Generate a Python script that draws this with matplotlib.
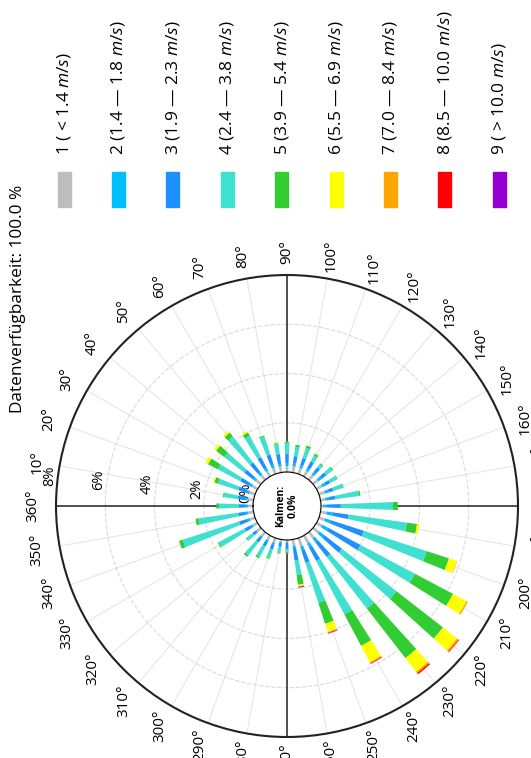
import numpy as np
import matplotlib.pyplot as plt
from matplotlib.patches import Rectangle

plt.rcParams['font.family'] = ['Open Sans', 'DejaVu Sans']
plt.rcParams['mathtext.fontset'] = 'custom'
plt.rcParams['mathtext.it'] = 'Open Sans:italic'
plt.rcParams['mathtext.rm'] = 'Open Sans'

# wind directions (deg) and frequency (%) per speed class
directions = list(range(10, 370, 10))
c1 = [0.25, 0.25, 0.25, 0.25, 0.25, 0.25, 0.25, 0.25, 0.25, 0.25, 0.25, 0.25,
      0.25, 0.25, 0.25, 0.25, 0.20, 0.10, 0.25, 0.25, 0.25, 0.30, 0.30, 0.35,
      0.35, 0.25, 0.10, 0.10, 0.20, 0.20, 0.22, 0.20, 0.22, 0.22, 0.22, 0.22]
c2 = [0.10, 0.10, 0.12, 0.12, 0.12, 0.12, 0.12, 0.10, 0.12, 0.12, 0.12, 0.12,
      0.12, 0.15, 0.15, 0.15, 0.15, 0.15, 0.25, 0.25, 0.25, 0.25, 0.20, 0.15,
      0.15, 0.10, 0.05, 0.05, 0.08, 0.08, 0.08, 0.05, 0.10, 0.10, 0.10, 0.10]
c3 = [0.30, 0.35, 0.40, 0.45, 0.50, 0.50, 0.45, 0.40, 0.35, 0.30, 0.30, 0.30,
      0.25, 0.25, 0.20, 0.20, 0.25, 0.55, 0.65, 1.40, 1.50, 0.90, 0.75, 0.65,
      0.55, 0.50, 0.20, 0.15, 0.20, 0.20, 0.20, 0.15, 0.25, 0.35, 0.30, 0.25]
c4 = [0.55, 0.87, 1.03, 1.03, 1.33, 0.98, 0.76, 0.43, 0.48, 0.38, 0.43, 0.28,
      0.15, 0.30, 0.32, 0.42, 0.98, 2.12, 2.38, 2.68, 2.50, 2.80, 2.65, 2.45,
      1.70, 0.60, 0.15, 0.25, 0.35, 0.48, 0.66, 0.31, 1.20, 2.40, 1.63, 0.82]
c5 = [0.05, 0.15, 0.45, 0.42, 0.20, 0.15, 0.05, 0.03, 0.02, 0.08, 0.10, 0.08,
      0.05, 0.05, 0.03, 0.02, 0.05, 0.20, 0.42, 0.95, 1.75, 2.40, 2.55, 1.45,
      0.90, 0.40, 0.02, 0.02, 0.05, 0.07, 0.08, 0.03, 0.04, 0.16, 0.12, 0.10]
c6 = [0.00, 0.05, 0.12, 0.10, 0.09, 0.07, 0.02, 0.03, 0.01, 0.00, 0.00, 0.02,
      0.00, 0.00, 0.00, 0.00, 0.00, 0.00, 0.10, 0.33, 0.62, 0.72, 0.70, 0.75,
      0.35, 0.06, 0.00, 0.00, 0.03, 0.00, 0.00, 0.00, 0.02, 0.00, 0.00, 0.00]
c7 = [0.00, 0.00, 0.00, 0.00, 0.00, 0.00, 0.00, 0.00, 0.02, 0.00, 0.00, 0.00,
      0.00, 0.00, 0.00, 0.00, 0.00, 0.00, 0.00, 0.02, 0.06, 0.08, 0.07, 0.05,
      0.03, 0.02, 0.03, 0.02, 0.00, 0.00, 0.00, 0.00, 0.00, 0.00, 0.00, 0.00]
c8 = [0.00] * 21 + [0.03, 0.06, 0.03, 0.02, 0.01] + [0.00] * 10
c9 = [0.00] * 24 + [0.02, 0.03] + [0.00] * 10
speed_classes = [c1, c2, c3, c4, c5, c6, c7, c8, c9]

class_labels = ['1 ( < 1.4 $m/s$)', '2 (1.4 — 1.8 $m/s$)', '3 (1.9 — 2.3 $m/s$)',
                '4 (2.4 — 3.8 $m/s$)', '5 (3.9 — 5.4 $m/s$)', '6 (5.5 — 6.9 $m/s$)',
                '7 (7.0 — 8.4 $m/s$)', '8 (8.5 — 10.0 $m/s$)', '9 ( > 10.0 $m/s$)']
colors = ['#bdbdbd', '#00bfff', '#1e90ff', '#40e0d0', '#32cd32',
          '#ffff00', '#ffa500', '#ff0000', '#9400d3']
r_ticks = [0, 2, 4, 6, 8]

fig = plt.figure(figsize=(5.31, 7.58), dpi=100)
# chart is drawn turned by 90 degrees: north on the left, east on top
ax = fig.add_axes([0.1055, 0.0277, 0.870, 0.6095], projection='polar')
ax.set_theta_zero_location('W')
ax.set_theta_direction(-1)
ax.set_ylim(0, 8)
ax.set_rorigin(-1.38)

theta = np.deg2rad(directions)
bottom = np.zeros(len(directions))
for vals, col in zip(speed_classes, colors):
    ax.bar(theta, vals, width=np.deg2rad(4.2), bottom=bottom, color=col,
           edgecolor='none', zorder=2)
    bottom += np.array(vals)

# main axes cross
for d in [0, 90, 180, 270]:
    ax.plot([np.deg2rad(d)] * 2, [0, 8], color='#333333', lw=1.2, zorder=1.9)

ax.set_thetagrids(directions, labels=[f'{d}°' for d in directions])
ax.set_rgrids(r_ticks, labels=[f'{r}%' for r in r_ticks], angle=5)
ax.xaxis.grid(True, color='#dcdcdc', lw=0.7, alpha=0.8)
ax.yaxis.grid(True, color='#d2d2d2', lw=0.8, ls=(0, (4, 1.5)), alpha=0.8)
ax.tick_params(axis='x', labelrotation=90, labelsize=11, pad=6)
ax.tick_params(axis='y', labelrotation=90, labelsize=10.5)
ax.spines['polar'].set_color('#222222')
ax.spines['polar'].set_linewidth(1.5)
ax.spines['inner'].set_visible(False)

ax.text(0.5, 0.5, 'Kalmen:\n0.0%', transform=ax.transAxes, rotation=90,
        ha='center', va='center', fontsize=7.5, fontweight='bold', zorder=5)

fig.text(18 / 531, 1 - 299 / 758, 'Datenverfügbarkeit: 100.0 %', rotation=90,
         ha='center', va='center', fontsize=12.4)

# legend, also turned
for i, (lab, col) in enumerate(zip(class_labels, colors)):
    x = 64 + i * 54.4
    fig.patches.append(Rectangle(((x - 6.5) / 531, (758 - 207) / 758), 13 / 531, 35 / 758,
                                 transform=fig.transFigure, color=col))
    fig.text(x / 531, 1 - 155 / 758, lab, rotation=90, ha='center', va='bottom',
             fontsize=12.5)

plt.savefig('out.png', dpi=100)
